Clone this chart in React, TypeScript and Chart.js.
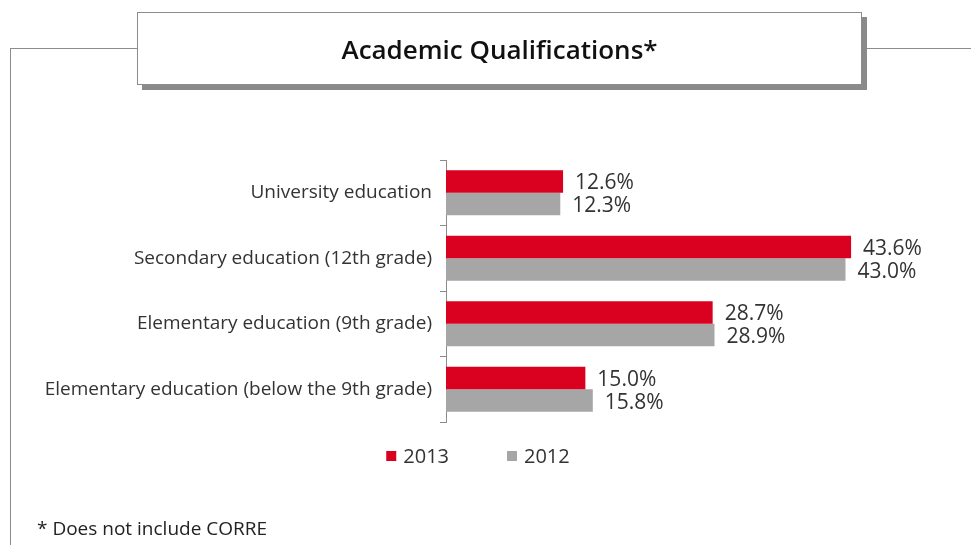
import React, { useEffect, useRef } from "react";
import { Chart, registerables } from "chart.js";

Chart.register(...registerables);

const titleText = "Academic Qualifications*";
const footnoteText = "* Does not include CORRE";
const categories = [
  "University education",
  "Secondary education (12th grade)",
  "Elementary education (9th grade)",
  "Elementary education (below the 9th grade)",
];
const seriesNames = ["2013", "2012"];
const values2013 = [12.6, 43.6, 28.7, 15.0];
const values2012 = [12.3, 43.0, 28.9, 15.8];
const seriesColors = ["#DA0020", "#A6A6A6"];

const FONT = '"Open Sans", "Noto Sans", sans-serif';

const valueLabelPlugin = {
  id: "valueLabels",
  afterDatasetsDraw(chart: any) {
    const ctx = chart.ctx;
    ctx.save();
    ctx.font = `21px ${FONT}`;
    ctx.fillStyle = "#333333";
    ctx.textBaseline = "middle";
    ctx.textAlign = "left";
    chart.data.datasets.forEach((ds: any, di: number) => {
      const meta = chart.getDatasetMeta(di);
      meta.data.forEach((el: any, i: number) => {
        const v = ds.data[i] as number;
        ctx.fillText(v.toFixed(1) + "%", el.x + 12, el.y + 2);
      });
    });
    ctx.restore();
  },
};

const customLegendPlugin = {
  id: "customLegend",
  afterDraw(chart: any) {
    const ctx = chart.ctx;
    ctx.save();
    ctx.font = `20px ${FONT}`;
    ctx.textBaseline = "middle";
    ctx.textAlign = "left";
    const box = 10;
    const gapBoxText = 7;
    const gapItems = 58;
    const items = chart.data.datasets.map((ds: any) => ({
      text: ds.label as string,
      color: ds.backgroundColor as string,
      w: box + gapBoxText + ctx.measureText(ds.label).width,
    }));
    const total = items.reduce((s: number, it: any) => s + it.w, 0) + gapItems * (items.length - 1);
    const centerX = 478;
    const y = chart.chartArea.bottom + 34;
    let x = centerX - total / 2;
    items.forEach((it: any) => {
      ctx.fillStyle = it.color;
      ctx.fillRect(x, y - box / 2, box, box);
      ctx.fillStyle = "#333333";
      ctx.fillText(it.text, x + box + gapBoxText, y + 1);
      x += it.w + gapItems;
    });
    ctx.restore();
  },
};

export default function App() {
  const canvasRef = useRef<HTMLCanvasElement | null>(null);

  useEffect(() => {
    if (!canvasRef.current) return;
    const chart = new Chart(canvasRef.current, {
      type: "bar",
      data: {
        labels: categories,
        datasets: [
          {
            label: seriesNames[0],
            data: values2013,
            backgroundColor: seriesColors[0],
            categoryPercentage: 0.69,
            barPercentage: 1.0,
          },
          {
            label: seriesNames[1],
            data: values2012,
            backgroundColor: seriesColors[1],
            categoryPercentage: 0.69,
            barPercentage: 1.0,
          },
        ],
      },
      options: {
        indexAxis: "y",
        responsive: true,
        maintainAspectRatio: false,
        animation: false,
        layout: { padding: { top: 160, bottom: 123, left: 0, right: 14 } },
        plugins: {
          legend: { display: false },
          tooltip: { enabled: false },
          title: { display: false },
        },
        scales: {
          x: { display: false, min: 0, max: 55 },
          y: {
            afterFit: (scale: any) => {
              scale.width = 446;
            },
            grid: {
              display: true,
              drawOnChartArea: false,
              drawTicks: true,
              tickLength: 6,
              color: "#8c8c8c",
              offset: true,
            },
            border: { display: true, color: "#8c8c8c" },
            ticks: {
              color: "#333333",
              padding: 8,
              font: { family: FONT, size: 19 },
            },
          },
        },
      },
      plugins: [valueLabelPlugin, customLegendPlugin],
    });
    return () => chart.destroy();
  }, []);

  return (
    <div
      style={{
        position: "fixed",
        left: 0,
        top: 0,
        width: 971,
        height: 545,
        background: "#ffffff",
        overflow: "hidden",
        fontFamily: FONT,
      }}
    >
      <div style={{ position: "absolute", left: 10, top: 48, width: 961, height: 1, background: "#8c8c8c" }} />
      <div style={{ position: "absolute", left: 10, top: 48, width: 1, height: 497, background: "#8c8c8c" }} />
      <div style={{ position: "absolute", left: 0, top: 0, width: 971, height: 545 }}>
        <canvas ref={canvasRef} />
      </div>
      <div
        style={{
          position: "absolute",
          left: 137,
          top: 12,
          width: 723,
          height: 71,
          border: "1px solid #8c8c8c",
          background: "#ffffff",
          boxShadow: "5px 5px 0 #8a8a8a",
          display: "flex",
          alignItems: "center",
          justifyContent: "center",
          fontSize: 26,
          fontWeight: 600,
          color: "#111111",
        }}
      >
        {titleText}
      </div>
      <div
        style={{
          position: "absolute",
          left: 37,
          top: 516,
          fontSize: 19,
          lineHeight: "24px",
          color: "#222222",
          whiteSpace: "nowrap",
        }}
      >
        {footnoteText}
      </div>
    </div>
  );
}
